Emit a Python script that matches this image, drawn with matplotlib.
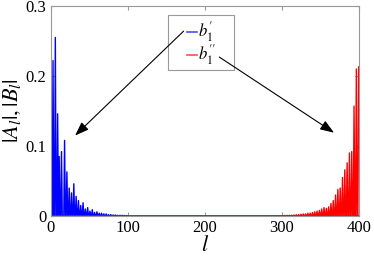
import numpy as np
import matplotlib
matplotlib.use('Agg')
from matplotlib import pyplot as plt
from matplotlib.patches import Rectangle

# peak values (zero between the peaks)
blue_l = [1, 3, 6, 9, 11, 14, 18, 21, 24, 27, 30, 33, 36, 39, 42, 45, 48, 51, 54,
          57, 60, 63, 66, 69, 72, 75, 78, 81, 84, 87, 90, 93, 96, 99]
blue_peak = [0.13, 0.222, 0.255, 0.146, 0.085, 0.092, 0.108, 0.063, 0.040, 0.033,
             0.046, 0.028, 0.022, 0.015, 0.019, 0.010, 0.012, 0.007, 0.009, 0.005,
             0.006, 0.004, 0.004, 0.003, 0.003, 0.002, 0.002, 0.0015, 0.0015, 0.001,
             0.001, 0.001, 0.0008, 0.0006]
red_l = [301, 304, 307, 310, 313, 316, 319, 322, 325, 328, 331, 334, 337, 340, 343,
         346, 349, 352, 355, 358, 361, 364, 367, 370, 373, 376, 379, 382, 385, 388,
         391, 394, 397, 400]
red_peak = [0.0006, 0.0008, 0.001, 0.001, 0.0012, 0.0015, 0.0018, 0.002, 0.0025,
            0.003, 0.003, 0.004, 0.004, 0.005, 0.006, 0.007, 0.008, 0.010, 0.012,
            0.011, 0.013, 0.018, 0.022, 0.030, 0.038, 0.040, 0.055, 0.066, 0.076,
            0.090, 0.092, 0.157, 0.210, 0.213]
labels = [r"$b_1^{\prime}$", r"$b_1^{\prime\prime}$"]

l = np.arange(0, 401)
A = np.zeros(len(l))
A[blue_l] = blue_peak
B = np.zeros(len(l))
B[red_l] = red_peak

plt.rcParams['font.family'] = 'serif'
plt.rcParams['font.serif'] = ['Liberation Serif', 'DejaVu Serif']
plt.rcParams['mathtext.fontset'] = 'stix'

fig = plt.figure(figsize=(3.74, 2.59), dpi=100)
ax = fig.add_axes([0.1356, 0.166, 0.8234, 0.811])

ax.plot(l, A, '-', color=(0, 0, 1), linewidth=1)
ax.plot(l, B, '-', color=(1, 0, 0), linewidth=1)

ax.set_xlim(0, 400)
ax.set_ylim(0, 0.3)
ax.set_xticks([0, 100, 200, 300, 400])
ax.set_yticks([0, 0.1, 0.2, 0.3])
ax.set_yticklabels(['0', '0.1', '0.2', '0.3'])
ax.tick_params(direction='in', top=True, right=True, labelsize=12, length=3,
               color='0.6', pad=3)
for s in ax.spines.values():
    s.set_color('0.6')
    s.set_linewidth(0.8)

ax.set_xlabel('$l$', fontsize=16, labelpad=0)
ax.set_ylabel('$|A_l|,|B_l|$', fontsize=16, labelpad=2)

# legend box drawn by hand (MATLAB style: wide padding left/right)
ax.add_patch(Rectangle((0.381, 0.695), 0.214, 0.262, transform=ax.transAxes,
                       facecolor='white', edgecolor='0.6', lw=0.8, zorder=5))
for yy, c, lab in zip([0.878, 0.767], [(0.3, 0.3, 1), (1, 0.3, 0.3)], labels):
    ax.plot([0.443, 0.476], [yy, yy], color=c, lw=1.2, transform=ax.transAxes,
            zorder=6)
    ax.text(0.478, yy, lab, transform=ax.transAxes, fontsize=12, va='center',
            ha='left', zorder=6)

ax.annotate('', xy=(31.7, 0.115), xytext=(172.6, 0.264),
            arrowprops=dict(arrowstyle='-|>,head_length=0.6,head_width=0.22',
                            color='black', lw=0.8,
                            mutation_scale=14, shrinkA=0, shrinkB=0), zorder=7)
ax.annotate('', xy=(368, 0.119), xytext=(219, 0.227),
            arrowprops=dict(arrowstyle='-|>,head_length=0.6,head_width=0.22',
                            color='black', lw=0.8,
                            mutation_scale=14, shrinkA=0, shrinkB=0), zorder=7)

fig.savefig('out.png', dpi=100)
